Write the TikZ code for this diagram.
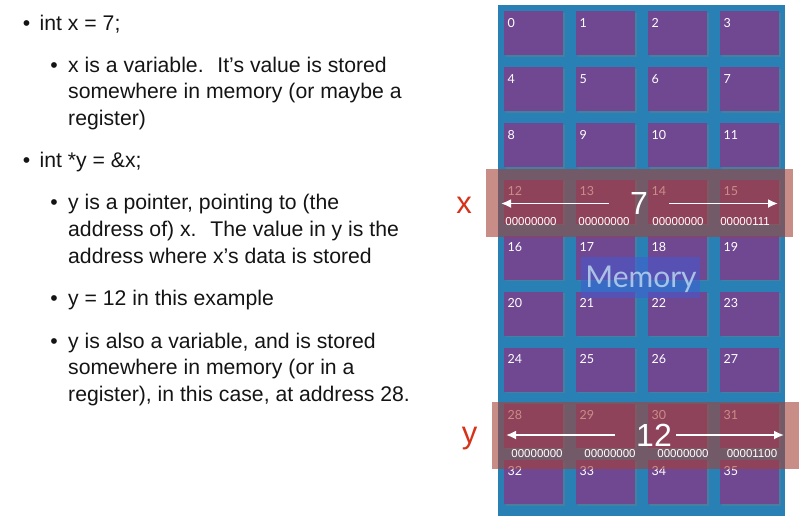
\documentclass[tikz,border=0pt]{standalone}
\usepackage{fontspec}
\setmainfont{Liberation Sans}
\newfontfamily\cellfont{Lato}
\usetikzlibrary{arrows.meta, shadows}
\definecolor{panelblue}{RGB}{40,128,180}
\definecolor{cellpurple}{RGB}{112,72,145}
\definecolor{hilite}{RGB}{165,65,55}
\definecolor{varred}{RGB}{215,50,25}
\definecolor{bodytext}{RGB}{20,20,20}
\definecolor{memblue}{RGB}{70,90,210}
\definecolor{memtext}{RGB}{185,212,238}
\tikzset{
  line/.style={anchor=base west, inner sep=0pt, text=bodytext, font=\fontsize{21.2}{24}\selectfont},
  bullet/.style={anchor=base, inner sep=0pt, text=bodytext, font=\fontsize{21.2}{24}\selectfont},
  cell/.style={fill=cellpurple, anchor=north west, minimum width=59pt, minimum height=44pt,
    inner sep=0pt, drop shadow={opacity=0.35, shadow xshift=1.5pt, shadow yshift=-1.5pt}},
  cellnum/.style={anchor=base west, inner sep=0pt, text=white, font=\cellfont\fontsize{12.5}{12.5}\selectfont},
  band/.style={fill=hilite, fill opacity=0.6},
  bits/.style={anchor=base, inner sep=0pt, text=white, font=\fontsize{11.5}{12}\selectfont},
  bigval/.style={inner sep=0pt, text=white, font=\fontsize{32}{32}\selectfont},
  varname/.style={anchor=base, inner sep=0pt, text=varred, font=\fontsize{31}{31}\selectfont},
  memlabel/.style={inner sep=0pt, text=memtext, text opacity=0.85, font=\cellfont\fontsize{30}{30}\selectfont},
  ptr/.style={draw=white, line width=1.8pt, -{Latex[length=10pt, width=9pt]}}
}
\begin{document}
\begin{tikzpicture}[x=1pt, y=-1pt]
  \useasboundingbox (0,0) rectangle (808,517);
  % bullet text
  \node[bullet] (b1) at (26.5,30) {•};
  \node[line] (t1) at (39.5,30) {int x = 7;};
  \node[bullet] (b2) at (54,72) {•};
  \node[line] (t2a) at (68,72) {x is a variable.~ It’s value is stored};
  \node[line] (t2b) at (68,98.5) {somewhere in memory (or maybe a};
  \node[line] (t2c) at (68,125) {register)};
  \node[bullet] (b3) at (26.5,167) {•};
  \node[line] (t3) at (39.5,167) {int *y = \&x;};
  \node[bullet] (b4) at (54,209) {•};
  \node[line] (t4a) at (68,209) {y is a pointer, pointing to (the};
  \node[line] (t4b) at (68,236) {address of) x.~ The value in y is the};
  \node[line] (t4c) at (68,263) {address where x’s data is stored};
  \node[bullet] (b5) at (54,305) {•};
  \node[line] (t5) at (68,305) {y = 12 in this example};
  \node[bullet] (b6) at (54,348) {•};
  \node[line] (t6a) at (68,348) {y is also a variable, and is stored};
  \node[line] (t6b) at (68,374.5) {somewhere in memory (or in a};
  \node[line] (t6c) at (68,401) {register), in this case, at address 28.};

  % memory panel
  \fill[panelblue] (498,5) rectangle (785,516);
  \foreach \r in {0,...,8}
    \foreach \c in {0,...,3} {
      \pgfmathtruncatemacro\n{4*\r+\c}
      \node[cell] (m\n) at (504+72*\c, 11+56.1*\r) {};
      \node[cellnum] (n\n) at ([xshift=3.5pt, yshift=-16pt]m\n.north west) {\n};
    }
  \fill[memblue, fill opacity=0.55] (581,257) rectangle (700,298);
  \node[memlabel] (mem) at (641,279) {Memory};

  % x and y
  \fill[band] (486,169) rectangle (793,237);
  \fill[band] (492,402) rectangle (799,469);
  \foreach \px/\b in {531/00000000, 604/00000000, 678/00000000, 745/00000111}
    \node[bits] at (\px,225) {\b};
  \foreach \px/\b in {537/00000000, 610/00000000, 683/00000000, 752/00001100}
    \node[bits] at (\px,457.5) {\b};
  \node[varname] (xname) at (464,213) {x};
  \node[varname] (yname) at (469.5,443) {y};
  \node[bigval] (xval) at (639,203.5) {7};
  \node[bigval] (yval) at (654,435) {12};
  \coordinate (xl) at (501,203.5);
  \coordinate (xr) at (778,203.5);
  \coordinate (yl) at (506,435);
  \coordinate (yr) at (784,435);
  \draw[ptr] ([xshift=-21pt]xval.west) -- (xl);
  \draw[ptr] ([xshift=21pt]xval.east) -- (xr);
  \draw[ptr] ([xshift=-21pt]yval.west) -- (yl);
  \draw[ptr] ([xshift=4pt]yval.east) -- (yr);
\end{tikzpicture}
\end{document}
